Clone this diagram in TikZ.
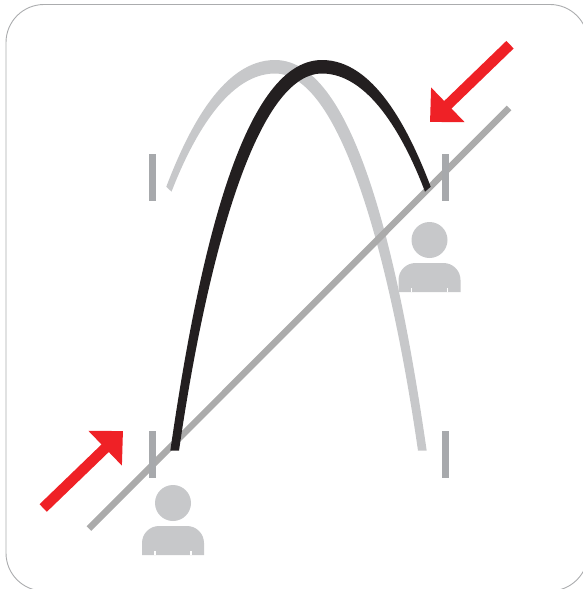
\documentclass[tikz,border=0pt]{standalone}
\usepackage{xcolor}
\usetikzlibrary{arrows.meta}
\definecolor{framegray}{HTML}{ABACAE}
\definecolor{sightgray}{HTML}{ABABAB}
\definecolor{tickgray}{HTML}{A7A9AC}
\definecolor{ghostgray}{HTML}{C7C8CA}
\definecolor{arcblack}{HTML}{231F20}
\definecolor{pushred}{HTML}{EF2126}
\tikzset{
  frame/.style={draw=framegray, line width=0.9pt, rounded corners=38pt},
  sight/.style={draw=sightgray, line width=6.5pt},
  tick/.style={draw=tickgray, line width=7pt},
  ghostarc/.style={fill=ghostgray},
  mainarc/.style={fill=arcblack},
  push/.style={draw=pushred, line width=10.5pt,
               -{Triangle[length=24.8pt, width=46.7pt, fill=pushred]}},
  person/.pic={
    \fill[ghostgray] (0,0) circle (18);
    \fill[ghostgray] (-31,52) -- (-31,40) [rounded corners=17pt] -- (-31,23)
      -- (31,23) [sharp corners] -- (31,52) -- cycle;
    \fill[white] (-18.8,48) rectangle (-17.4,52);
    \fill[white] (17.4,48) rectangle (18.8,52);
  },
}
\begin{document}
\begin{tikzpicture}[x=1pt, y=-1pt]
  \useasboundingbox (0,0) rectangle (583,589);
  \draw[frame] (6,4.5) rectangle (588,591);
  % line of sight
  \coordinate (sightA) at (89,528.5);
  \coordinate (sightB) at (509,108);
  % arcs
  \fill[ghostarc] (426.7,450.7) .. controls (400.6,270.7) and (357,60) .. (275,60)
    .. controls (224,60) and (189.1,126.7) .. (166.3,186.7)
    -- (171.5,191.7) .. controls (194.8,131.7) and (230,73.5) .. (275,73.5)
    .. controls (343,73.5) and (392,270.7) .. (418,450.7) -- cycle;
  \draw[sight] (sightA) -- (sightB);
  \fill[mainarc] (170.3,450.7) .. controls (196.4,270.7) and (240,60) .. (322,60)
    .. controls (373,60) and (407.9,126.7) .. (430.7,186.7)
    -- (425,191.7) .. controls (402.2,131.7) and (367,73.5) .. (322,73.5)
    .. controls (254,73.5) and (205,270.7) .. (179,450.7) -- cycle;
  % ticks
  \foreach \tx/\ty [count=\ti] in {152.5/154, 445.5/154, 152.5/431, 445.5/431}
    \draw[tick] (\tx,\ty) -- (\tx,\ty+47);
  % people
  \pic (viewerA) at (173,503) {person};
  \pic (viewerB) at (429.5,240) {person};
  % pushes
  \coordinate (pushAtail) at (43.2,508);
  \coordinate (pushAtip) at (123,431);
  \coordinate (pushBtail) at (510,44.7);
  \coordinate (pushBtip) at (430,122);
  \draw[push] (pushAtail) -- (pushAtip);
  \draw[push] (pushBtail) -- (pushBtip);
\end{tikzpicture}
\end{document}
